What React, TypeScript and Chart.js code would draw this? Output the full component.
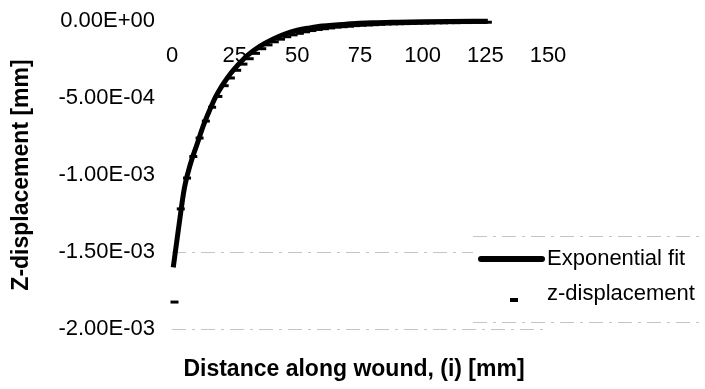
import React, { useEffect, useRef } from "react";
import { Chart, registerables } from "chart.js";

Chart.register(...registerables);

// Exponential fit curve (x in mm, z in mm)
const fitX = [0.5, 2.5, 5, 7.5, 10, 12.5, 15, 17.5, 20, 22.5, 25, 27.5, 30, 35, 40, 45, 50, 55, 60, 70, 80, 90, 100, 110, 126];
const fitZ = [
  -1.6e-3, -1.36e-3, -1.08e-3, -0.92e-3, -0.8e-3, -0.68e-3, -0.58e-3, -0.49e-3, -0.42e-3, -0.36e-3,
  -0.31e-3, -0.265e-3, -0.225e-3, -0.165e-3, -0.12e-3, -0.085e-3, -0.06e-3, -0.045e-3, -0.033e-3,
  -0.02e-3, -0.012e-3, -0.008e-3, -0.005e-3, -0.003e-3, -0.002e-3,
];

// measured z-displacement
const measX = [
  1, 3.5, 6, 8.5, 11, 13.5, 16, 18.5, 21, 23.5, 26, 28.5, 31, 33.5, 36, 38.5, 41, 43.5, 46, 48.5, 51,
  53.5, 56, 58.5, 61, 63.5, 66, 68.5, 71, 73.5, 76, 78.5, 81, 83.5, 86, 88.5, 91, 93.5, 96, 98.5, 101,
  103.5, 106, 108.5, 111, 113.5, 116, 118.5, 121, 123.5, 126,
];
const measZ = [
  -1.825e-3, -1.22e-3, -1.02e-3, -0.88e-3, -0.76e-3, -0.65e-3, -0.56e-3, -0.49e-3, -0.42e-3, -0.37e-3,
  -0.32e-3, -0.28e-3, -0.245e-3, -0.21e-3, -0.18e-3, -0.155e-3, -0.135e-3, -0.118e-3, -0.102e-3,
  -0.09e-3, -0.08e-3, -0.07e-3, -0.062e-3, -0.055e-3, -0.05e-3, -0.045e-3, -0.04e-3, -0.037e-3,
  -0.034e-3, -0.03e-3, -0.028e-3, -0.026e-3, -0.024e-3, -0.022e-3, -0.02e-3, -0.019e-3, -0.018e-3,
  -0.017e-3, -0.016e-3, -0.015e-3, -0.014e-3, -0.013e-3, -0.012e-3, -0.012e-3, -0.011e-3, -0.011e-3,
  -0.01e-3, -0.01e-3, -0.009e-3, -0.009e-3, -0.008e-3,
];

const seriesNames = ["Exponential fit", "z-displacement"];
const xTitle = "Distance along wound, (i) [mm]";
const yTitle = "Z-displacement [mm]";
const gridValues = [-1.5e-3, -2e-3];

const FONT = "'Liberation Sans', Arial, Helvetica, sans-serif";

function fmtExp(v: number): string {
  if (Math.abs(v) < 1e-12) return "0.00E+00";
  const s = v.toExponential(2);
  const [m, e] = s.split("e");
  const n = parseInt(e, 10);
  const sign = n < 0 ? "-" : "+";
  const ab = Math.abs(n);
  return `${m}E${sign}${ab < 10 ? "0" + ab : ab}`;
}

const overlay = {
  id: "overlay",
  afterDraw(chart: any) {
    const ctx = chart.ctx;
    ctx.save();
    // legend box
    const bx = 473, by = 236, bw = 240, bh = 86;
    ctx.fillStyle = "#fff";
    ctx.fillRect(bx, by, bw, bh);
    ctx.strokeStyle = "#c4c4c4";
    ctx.lineWidth = 1;
    ctx.setLineDash([14, 6, 3, 6]);
    ctx.beginPath();
    ctx.moveTo(bx, by + 0.5);
    ctx.lineTo(bx + bw, by + 0.5);
    ctx.moveTo(bx, by + bh + 0.5);
    ctx.lineTo(bx + bw, by + bh + 0.5);
    ctx.stroke();
    ctx.setLineDash([]);

    ctx.fillStyle = "#000";
    ctx.strokeStyle = "#000";
    ctx.font = `22px ${FONT}`;
    ctx.textBaseline = "middle";
    ctx.textAlign = "left";
    // entry 1: line
    ctx.lineWidth = 6;
    ctx.lineCap = "round";
    ctx.beginPath();
    ctx.moveTo(481, 259);
    ctx.lineTo(542, 259);
    ctx.stroke();
    ctx.fillText(seriesNames[0], 547, 259);
    // entry 2: dash marker
    ctx.lineCap = "butt";
    ctx.lineWidth = 4;
    ctx.beginPath();
    ctx.moveTo(510, 300);
    ctx.lineTo(518, 300);
    ctx.stroke();
    ctx.fillText(seriesNames[1], 547, 294);

    // x title
    ctx.font = `bold 23px ${FONT}`;
    ctx.textAlign = "center";
    ctx.fillText(xTitle, 354, 370);
    ctx.restore();
  },
};

export default function App() {
  const ref = useRef<HTMLCanvasElement>(null);
  useEffect(() => {
    if (!ref.current) return;
    const chart = new Chart(ref.current, {
      type: "scatter",
      data: {
        datasets: [
          {
            label: seriesNames[0],
            data: fitX.map((x, i) => ({ x, y: fitZ[i] })),
            showLine: true,
            borderColor: "#000",
            backgroundColor: "#000",
            borderWidth: 5,
            pointRadius: 0,
            cubicInterpolationMode: "monotone",
            clip: false,
            order: 0,
          } as any,
          {
            label: seriesNames[1],
            data: measX.map((x, i) => ({ x, y: measZ[i] })),
            showLine: false,
            pointStyle: "line",
            pointRadius: 4,
            borderWidth: 3,
            borderColor: "#000",
            backgroundColor: "#000",
            clip: false,
            order: 1,
          } as any,
        ],
      },
      options: {
        animation: false,
        responsive: true,
        maintainAspectRatio: false,
        layout: { padding: { left: 0, top: 21, right: 157, bottom: 60 } },
        plugins: {
          legend: { display: false },
          tooltip: { enabled: false },
          title: { display: false },
        },
        scales: {
          x: {
            type: "linear",
            position: { y: 0 } as any,
            min: 0,
            max: 150,
            grid: { display: false },
            border: { display: false },
            ticks: {
              stepSize: 25,
              padding: 14,
              color: "#000",
              font: { family: FONT, size: 22 },
              maxRotation: 0,
              autoSkip: false,
            },
          },
          y: {
            type: "linear",
            min: -2e-3,
            max: 0,
            afterFit: (s: any) => {
              s.width = 172;
              s.paddingTop = 0;
              s.paddingBottom = 0;
            },
            grid: {
              drawTicks: false,
              color: (c: any) =>
                gridValues.some((g) => Math.abs(c.tick.value - g) < 1e-9) ? "#c4c4c4" : "rgba(0,0,0,0)",
              lineWidth: 1,
            },
            border: { display: false, dash: [14, 6, 3, 6] },
            ticks: {
              stepSize: 5e-4,
              padding: 17,
              color: "#000",
              font: { family: FONT, size: 22 },
              callback: (v: any) => fmtExp(Number(v)),
            },
            title: {
              display: true,
              text: yTitle,
              color: "#000",
              font: { family: FONT, size: 23, weight: "bold" },
              padding: { top: 8, bottom: 4 },
            },
          },
        },
      },
      plugins: [overlay],
    });
    return () => chart.destroy();
  }, []);
  return (
    <div style={{ position: "absolute", left: 0, top: 0, width: 705, height: 389, background: "#fff" }}>
      <canvas ref={ref} />
    </div>
  );
}
